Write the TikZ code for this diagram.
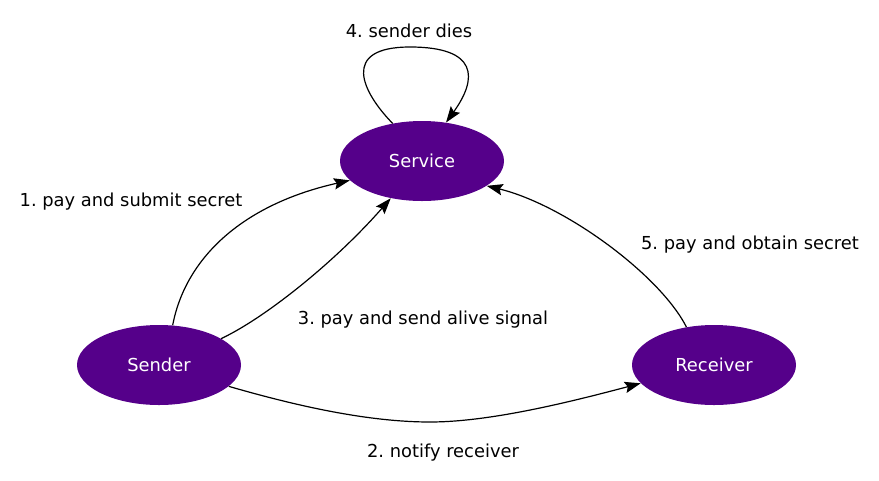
\documentclass[tikz,border=0pt]{standalone}
\usepackage{fontspec}
\setmainfont{DejaVu Sans}
\usetikzlibrary{shapes.geometric,arrows.meta}
\definecolor{nodepurple}{HTML}{55008A}
\frenchspacing
\begin{document}
\begin{tikzpicture}[x=0.75pt,y=-0.75pt,
  state/.style={ellipse,fill=nodepurple,draw=none,minimum width=123pt,minimum height=60pt,inner sep=0pt,text=white,font=\fontsize{13.4}{16}\selectfont},
  lbl/.style={font=\fontsize{13.4}{16}\selectfont,text=black,inner sep=0pt},
  edge/.style={line width=0.9pt,-{Stealth[length=12pt,width=8.5pt,inset=2pt]}}]
\useasboundingbox (0,0) rectangle (879,480);
\node[state] (service) at (422,161) {Service};
\node[state] (sender) at (159,365) {Sender};
\node[state] (receiver) at (714,365) {Receiver};

\node[lbl] (l4) at (409,31) {4. sender dies};
\node[lbl] (l1) at (131,202) {1. pay and submit secret};
\node[lbl] (l3) at (423,320) {3. pay and send alive signal};
\node[lbl] (l2) at (443,453) {2. notify receiver};
\node[lbl] (l5) at (750,245) {5. pay and obtain secret};

\draw[edge] (sender.71) .. controls (185,260) and (240,205) .. (service.195);
\draw[edge] (sender.23) .. controls (265,318) and (335,262) .. (service.230);
\draw[edge] (sender.343) .. controls (300,407) and (370,422) .. (430,422) .. controls (490,422) and (570,402) .. (receiver.194);
\draw[edge] (receiver.126) .. controls (660,275) and (565,205) .. (service.339);
\draw[edge] (service.128) .. controls (362,92) and (340,47) .. (410,47) .. controls (478,47) and (478,78) .. (service.58);
\end{tikzpicture}
\end{document}
